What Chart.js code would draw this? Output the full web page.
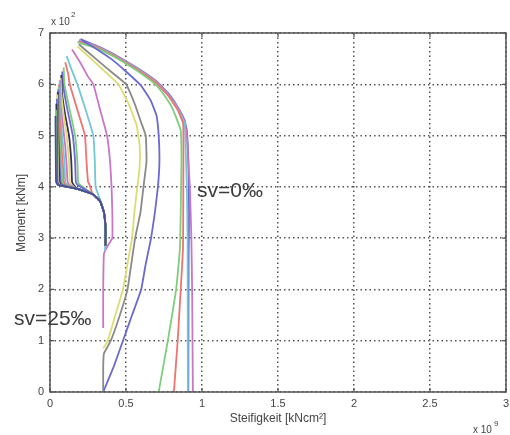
<!DOCTYPE html>
<html>
<head>
<meta charset="utf-8">
<script src="https://cdn.jsdelivr.net/npm/chart.js@4.4.1/dist/chart.umd.min.js"></script>
<style>
  html, body { margin: 0; padding: 0; background: #fff; }
  #wrap { width: 510px; height: 435px; position: relative; }
</style>
</head>
<body>
<div id="wrap"><canvas id="canvas"></canvas></div>
<script>
// Steifigkeit in 1e9 kNcm², Moment in 1e2 kNm
const xTickLabels = ['0', '0.5', '1', '1.5', '2', '2.5', '3'];
const yTickLabels = ['0', '1', '2', '3', '4', '5', '6', '7'];

// outer curves (low sv)
const c0 = [[0.20,6.88],[0.30,6.76],[0.40,6.62],[0.50,6.45],[0.60,6.27],[0.70,6.06],[0.78,5.82],[0.84,5.56],[0.885,5.3],[0.90,5.1],[0.91,4.5],[0.915,3.5],[0.912,2.6],[0.91,0]];
const c1 = [[0.19,6.86],[0.30,6.75],[0.40,6.61],[0.50,6.44],[0.60,6.26],[0.70,6.05],[0.78,5.8],[0.84,5.55],[0.885,5.28],[0.90,5.0],[0.92,4.0],[0.93,3.0],[0.935,2.0],[0.94,0]];
const c2 = [[0.19,6.85],[0.30,6.74],[0.40,6.6],[0.50,6.43],[0.60,6.25],[0.70,6.03],[0.78,5.78],[0.84,5.52],[0.885,5.25],[0.89,5.0],[0.90,4.0],[0.905,3.0],[0.907,0]];
const c3 = [[0.19,6.84],[0.30,6.73],[0.40,6.59],[0.50,6.42],[0.60,6.24],[0.70,6.02],[0.78,5.77],[0.84,5.5],[0.875,5.25],[0.878,5.0],[0.877,4.0],[0.875,2.8],[0.86,2.0],[0.84,1.0],[0.815,0]];
const c4 = [[0.18,6.82],[0.30,6.71],[0.40,6.57],[0.50,6.4],[0.60,6.21],[0.70,5.98],[0.76,5.75],[0.81,5.5],[0.86,5.1],[0.865,4.5],[0.86,3.5],[0.855,2.8],[0.83,2.0],[0.775,1.0],[0.715,0]];
const c5 = [[0.21,6.86],[0.30,6.7],[0.40,6.5],[0.50,6.25],[0.60,5.97],[0.66,5.7],[0.70,5.4],[0.715,5.0],[0.72,4.5],[0.71,4.0],[0.69,3.5],[0.665,3.0],[0.63,2.5],[0.60,2.0],[0.54,1.5],[0.48,1.0],[0.42,0.5],[0.35,0]];
const c6 = [[0.19,6.78],[0.30,6.5],[0.42,6.2],[0.50,6.0],[0.56,5.6],[0.60,5.25],[0.63,5.0],[0.635,4.5],[0.615,4.0],[0.595,3.5],[0.56,3.0],[0.535,2.5],[0.51,2.0],[0.46,1.5],[0.40,1.0],[0.355,0.75],[0.35,0.5],[0.35,0]];
const c7 = [[0.18,6.74],[0.27,6.5],[0.36,6.25],[0.45,6.0],[0.52,5.6],[0.57,5.2],[0.59,4.8],[0.59,4.4],[0.575,4.0],[0.555,3.5],[0.54,3.0],[0.51,2.5],[0.48,2.0],[0.43,1.5],[0.38,1.0],[0.35,0.85]];
const c8 = [[0.145,6.68],[0.20,6.42],[0.25,6.15],[0.285,6.0],[0.33,5.5],[0.375,5.0],[0.395,4.5],[0.405,4.0],[0.41,3.5],[0.41,3.0],[0.38,2.85],[0.355,2.7],[0.35,2.0],[0.35,1.25]];
const c9 = [[0.11,6.55],[0.14,6.3],[0.18,6.0],[0.235,5.5],[0.285,5.0],[0.295,4.5],[0.30,4.0],[0.33,3.75],[0.355,3.5],[0.362,3.2],[0.362,2.75]];
const c10 = [[0.10,6.43],[0.12,6.2],[0.13,6.0],[0.18,5.5],[0.23,5.0],[0.24,4.5],[0.25,4.1]];

// inner cluster (high sv), each runs into the common shoulder below
const c11 = [[0.09,6.33],[0.095,6.0],[0.13,5.5],[0.165,5.0],[0.18,4.5],[0.185,4.1]];
const c12 = [[0.08,6.25],[0.085,6.0],[0.115,5.5],[0.15,5.0],[0.165,4.5],[0.17,4.1]];
const c13 = [[0.074,6.18],[0.08,5.8],[0.10,5.4],[0.125,5.0],[0.14,4.5],[0.145,4.1]];
const c14 = [[0.07,6.12],[0.075,5.8],[0.09,5.4],[0.11,5.0],[0.125,4.5],[0.13,4.1]];
const c15 = [[0.066,6.08],[0.07,5.6],[0.085,5.2],[0.10,4.8],[0.11,4.4],[0.115,4.1]];
const c16 = [[0.063,6.04],[0.066,5.5],[0.08,5.0],[0.095,4.5],[0.10,4.1]];
const c17 = [[0.06,6.0],[0.062,5.4],[0.075,4.8],[0.085,4.4],[0.09,4.1]];
const c18 = [[0.057,5.95],[0.058,5.3],[0.068,4.7],[0.078,4.3],[0.08,4.1]];
const c19 = [[0.054,5.9],[0.055,5.2],[0.062,4.6],[0.07,4.1]];
const c20 = [[0.051,5.85],[0.052,5.1],[0.058,4.5],[0.062,4.1]];
const c21 = [[0.048,5.8],[0.05,4.9],[0.055,4.1]];
const c22 = [[0.045,5.72],[0.047,4.7],[0.05,4.1]];
const c23 = [[0.042,5.62],[0.044,4.6],[0.046,4.1]];
const c24 = [[0.039,5.5],[0.042,4.5],[0.043,4.1]];
const c25 = [[0.036,5.38],[0.038,4.6],[0.04,4.1]];
const shoulder = [[0.18,3.96],[0.28,3.86],[0.33,3.72],[0.355,3.5],[0.365,3.2],[0.365,2.85]];

const outerCurves = [c0, c1, c2, c3, c4, c5, c6, c7, c8, c9];
const innerCurves = [c10, c11, c12, c13, c14, c15, c16, c17, c18, c19, c20, c21, c22, c23, c24, c25];

const BLUE = '#6a6ad2', GREEN = '#7dcf7d', RED = '#f07272', CYAN = '#72c8d6',
      MAGENTA = '#c876c8', YELLOW = '#dcdc72', GREY = '#8a8a8a', DARK = '#3a3050',
      NAVY = '#4a4aa0';
const outerColors = [BLUE, MAGENTA, CYAN, RED, GREEN, BLUE, GREY, YELLOW, MAGENTA, CYAN];
const innerColors = [RED, GREEN, BLUE, DARK, YELLOW, MAGENTA, CYAN, RED, GREEN, BLUE, DARK, YELLOW, BLUE, DARK, GREEN, NAVY];

function toPoints(pts) {
    return pts.map(p => ({ x: p[0], y: p[1] }));
}

function withShoulder(pts) {
    const last = pts[pts.length - 1];
    const rest = shoulder.filter(s => s[0] > last[0] + 0.01);
    return pts.concat([[last[0] + 0.01, 4.04]], rest);
}

const datasets = [];
// Chart.js draws dataset 0 on top, so push the inner ones last-to-first
innerCurves.slice().reverse().forEach((c, i) => {
    datasets.push({ data: toPoints(withShoulder(c)), borderColor: innerColors[innerCurves.length - 1 - i] });
});
outerCurves.slice().reverse().forEach((c, i) => {
    datasets.push({ data: toPoints(c), borderColor: outerColors[outerCurves.length - 1 - i] });
});
datasets.forEach(d => {
    d.showLine = true;
    d.pointRadius = 0;
    d.borderWidth = 1.8;
    d.tension = 0.1;
    d.fill = false;
});

// box, inward ticks and the text around the axes
const decor = {
    id: 'decor',
    afterDraw(chart) {
        const { ctx, chartArea: { left, right, top, bottom }, scales: { x, y } } = chart;
        ctx.save();
        ctx.strokeStyle = '#555';
        ctx.lineWidth = 1.5;
        ctx.setLineDash([]);
        ctx.strokeRect(left, top, right - left, bottom - top);
        ctx.lineWidth = 1.2;
        ctx.beginPath();
        x.ticks.forEach(t => {
            const px = x.getPixelForValue(t.value);
            ctx.moveTo(px, bottom); ctx.lineTo(px, bottom - 4);
            ctx.moveTo(px, top); ctx.lineTo(px, top + 4);
        });
        y.ticks.forEach(t => {
            const py = y.getPixelForValue(t.value);
            ctx.moveTo(left, py); ctx.lineTo(left + 4, py);
            ctx.moveTo(right, py); ctx.lineTo(right - 4, py);
        });
        ctx.stroke();

        ctx.fillStyle = '#444';
        ctx.font = '10px "Liberation Sans", Arial, sans-serif';
        ctx.textBaseline = 'alphabetic';
        ctx.textAlign = 'left';
        ctx.fillText('x 10', 51, 25);
        ctx.fillText('x 10', 473, 433);
        ctx.font = '8px "Liberation Sans", Arial, sans-serif';
        ctx.fillText('2', 71, 17);
        ctx.fillText('9', 494, 426);

        ctx.font = '12px "Liberation Sans", Arial, sans-serif';
        ctx.textAlign = 'center';
        ctx.fillText('Steifigkeit [kNcm²]', (left + right) / 2, 422);
        ctx.save();
        ctx.translate(25, 213);
        ctx.rotate(-Math.PI / 2);
        ctx.fillText('Moment [kNm]', 0, 0);
        ctx.restore();

        ctx.fillStyle = '#3c3c3c';
        ctx.font = '21px "Liberation Sans", Arial, sans-serif';
        ctx.textAlign = 'left';
        ctx.fillText('sv=0‰', 197, 197);
        ctx.fillText('sv=25‰', 14, 325);
        ctx.restore();
    }
};

const tickFont = { family: '"Liberation Sans", Arial, sans-serif', size: 11 };

new Chart(document.getElementById('canvas'), {
    type: 'scatter',
    data: { datasets },
    options: {
        responsive: true,
        maintainAspectRatio: false,
        animation: false,
        layout: { padding: { left: 0, right: 4, top: 33, bottom: 0 } },
        plugins: { legend: { display: false }, tooltip: { enabled: false } },
        scales: {
            x: {
                type: 'linear', min: 0, max: 3,
                afterFit(s) { s.height = 43; s.paddingLeft = 0; s.paddingRight = 0; },
                ticks: {
                    stepSize: 0.5, color: '#444', font: tickFont, padding: 5,
                    callback: (v, i) => xTickLabels[i]
                },
                grid: { color: '#555', lineWidth: 1.5, drawTicks: false },
                border: { display: false, dash: [1.5, 3] }
            },
            y: {
                type: 'linear', min: 0, max: 7,
                afterFit(s) { s.width = 50; s.paddingTop = 0; s.paddingBottom = 0; },
                ticks: {
                    stepSize: 1, color: '#444', font: tickFont, padding: 6,
                    callback: (v, i) => yTickLabels[i]
                },
                grid: { color: '#555', lineWidth: 1.5, drawTicks: false },
                border: { display: false, dash: [1.5, 3] }
            }
        }
    },
    plugins: [decor]
});
</script>
</body>
</html>
